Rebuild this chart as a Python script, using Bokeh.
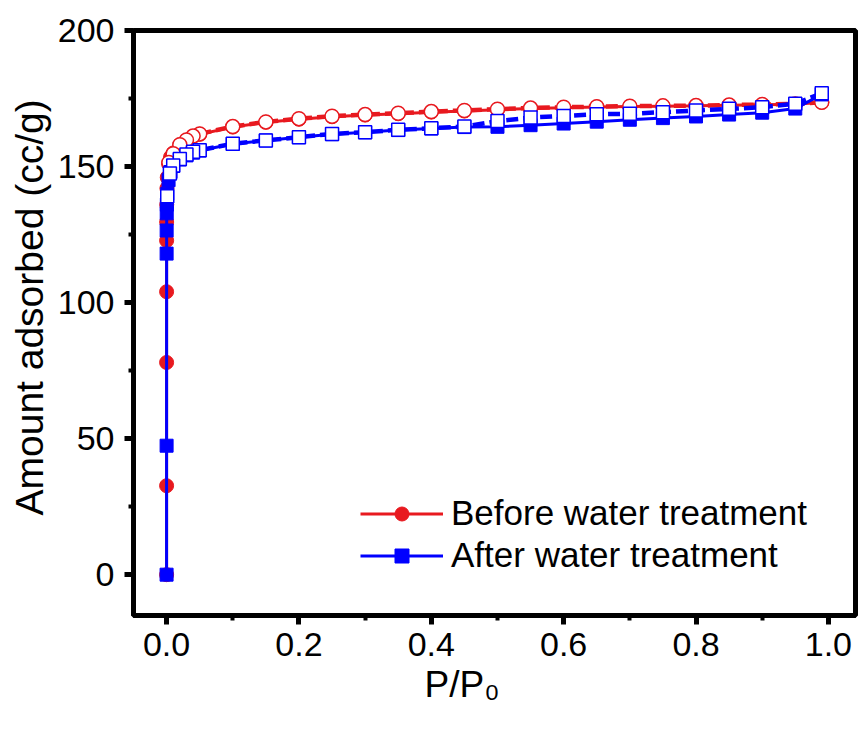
from bokeh.plotting import figure
from bokeh.models import (Range1d, SingleIntervalTicker, NumeralTickFormatter, Legend, LegendItem, Title)
from bokeh.embed import file_html
from bokeh.resources import INLINE

# ---- data ----
before_ads_x = [0.000001, 0.000005, 0.00001, 0.00002, 0.00004, 0.00008, 0.0002, 0.0005, 0.001, 0.003, 0.006, 0.01,
                0.02, 0.03, 0.04, 0.05, 0.1, 0.15, 0.2, 0.25, 0.3, 0.35, 0.4, 0.45, 0.5, 0.55, 0.6, 0.65, 0.7, 0.75,
                0.8, 0.85, 0.9, 0.95, 0.99]
before_ads_y = [0.0, 32.7, 78.0, 104.0, 122.8, 129.6, 136.0, 142.0, 146.0, 151.0, 153.5, 155.0,
                158.0, 159.7, 161.0, 161.9, 164.5, 166.3, 167.4, 168.3, 168.9, 169.4, 170.0, 170.4, 170.9, 171.3,
                171.6, 171.9, 172.1, 172.2, 172.3, 172.5, 172.7, 172.9, 173.6]
before_des_x = [0.99, 0.95, 0.9, 0.85, 0.8, 0.75, 0.7, 0.65, 0.6, 0.55, 0.5, 0.45, 0.4, 0.35, 0.3, 0.25, 0.2, 0.15,
                0.1, 0.05, 0.04, 0.03, 0.02, 0.01, 0.0035]
before_des_y = [173.6, 173.0, 172.8, 172.6, 172.4, 172.3, 172.2, 172.0, 171.8, 171.5, 171.1, 170.6, 170.2, 169.6,
                169.1, 168.5, 167.6, 166.4, 164.7, 162.0, 161.2, 159.8, 158.0, 154.7, 151.5]

after_ads_x = [0.000001, 0.00001, 0.00005, 0.0001, 0.0002, 0.0004, 0.001, 0.003, 0.006, 0.01, 0.02, 0.03, 0.04,
               0.05, 0.1, 0.15, 0.2, 0.25, 0.3, 0.35, 0.4, 0.45, 0.5, 0.55, 0.6, 0.65, 0.7, 0.75, 0.8, 0.85, 0.9,
               0.95, 0.99]
after_ads_y = [0.0, 47.4, 118.0, 126.5, 132.8, 136.0, 140.0, 145.0, 148.0, 150.2, 152.6, 154.1, 155.1,
               155.9, 158.3, 159.6, 160.8, 161.9, 162.6, 163.4, 164.0, 164.5, 164.6, 165.2, 165.8, 166.5, 167.2,
               167.8, 168.4, 169.1, 169.8, 171.3, 176.5]
after_des_x = [0.99, 0.95, 0.9, 0.85, 0.8, 0.75, 0.7, 0.65, 0.6, 0.55, 0.5, 0.45, 0.4, 0.35, 0.3, 0.25, 0.2, 0.15,
               0.1, 0.05, 0.04, 0.03, 0.02, 0.01, 0.005, 0.001]
after_des_y = [176.9, 173.1, 171.8, 171.2, 170.6, 170.0, 169.4, 169.2, 168.6, 168.0, 166.7, 164.7, 164.1, 163.5,
               162.6, 162.0, 160.8, 159.6, 158.4, 156.0, 155.4, 154.4, 152.8, 150.4, 147.4, 139.1]

x_ticks_interval = 0.2
y_ticks_interval = 50
x_title = "P/P\u2080"
y_title = "Amount adsorbed (cc/g)"
series_labels = ["Before water treatment", "After water treatment"]

RED = "#E8191F"
BLUE = "#0000FF"
FONT = "Liberation Sans"

p = figure(width=861, height=734, output_backend="svg", toolbar_location=None,
           x_range=Range1d(-0.05, 1.041), y_range=Range1d(-15, 200),
           frame_width=722, frame_height=585,
           min_border_left=133, min_border_right=6, min_border_top=30, min_border_bottom=119)
p.background_fill_color = "white"
p.border_fill_color = "white"
p.grid.visible = False
p.outline_line_color = "black"
p.outline_line_width = 5

p.xaxis.ticker = SingleIntervalTicker(interval=x_ticks_interval, num_minor_ticks=2)
p.yaxis.ticker = SingleIntervalTicker(interval=y_ticks_interval, num_minor_ticks=2)
p.xaxis.formatter = NumeralTickFormatter(format="0.0")
for ax in (p.xaxis[0], p.yaxis[0]):
    ax.axis_line_width = 5
    ax.axis_line_color = "black"
    ax.major_tick_line_width = 5
    ax.minor_tick_line_width = 4
    ax.major_tick_out = 9
    ax.major_tick_in = 0
    ax.minor_tick_out = 5
    ax.minor_tick_in = 0
    ax.major_label_text_font = FONT
    ax.major_label_text_font_size = "34px"
    ax.major_label_text_color = "black"
p.xaxis.major_label_standoff = 8
p.yaxis.major_label_standoff = 10

# axis titles as Title panels (allows offsets)
p.add_layout(Title(text=y_title, align="left", offset=100, standoff=8,
                   text_font=FONT, text_font_size="39px", text_font_style="normal",
                   text_color="black"), "left")
p.add_layout(Title(text=x_title, align="left", offset=291, standoff=7,
                   text_font=FONT, text_font_size="37px", text_font_style="normal",
                   text_color="black"), "below")

# glyphs
r_line = p.line(before_ads_x, before_ads_y, line_color=RED, line_width=3)
r_sc = p.scatter(before_ads_x, before_ads_y, marker="circle", size=14, fill_color=RED, line_color=RED, line_width=1)
p.line(before_des_x, before_des_y, line_color=RED, line_width=4.5, line_dash="12 5")
p.scatter(before_des_x, before_des_y, marker="circle", size=14, fill_color="white", line_color=RED, line_width=1.5)

b_line = p.line(after_ads_x, after_ads_y, line_color=BLUE, line_width=3)
b_sc = p.scatter(after_ads_x, after_ads_y, marker="square", size=13, fill_color=BLUE, line_color=BLUE, line_width=1)
p.line(after_des_x, after_des_y, line_color=BLUE, line_width=4.5, line_dash="12 5")
p.scatter(after_des_x, after_des_y, marker="square", size=13, fill_color="white", line_color=BLUE, line_width=1.5)

legend = Legend(items=[LegendItem(label=series_labels[0], renderers=[r_line, r_sc]),
                       LegendItem(label=series_labels[1], renderers=[b_line, b_sc])],
                location=(227, 40), border_line_color=None, background_fill_alpha=0,
                padding=0, margin=0, spacing=2, glyph_width=83, glyph_height=35, label_standoff=8,
                label_text_font=FONT, label_text_font_size="35px", label_text_color="black")
p.add_layout(legend, "center")

open("out.html", "w").write(file_html(p, INLINE))
